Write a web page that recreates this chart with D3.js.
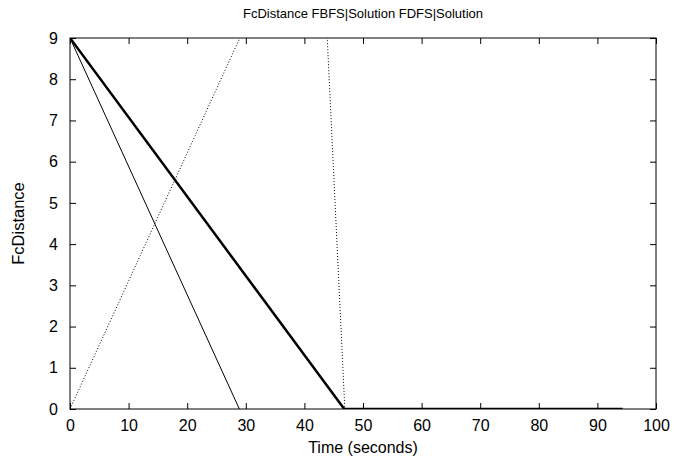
<!DOCTYPE html>
<html lang="en">
<head>
<meta charset="UTF-8">
<title>FcDistance</title>
<script src="https://d3js.org/d3.v7.min.js"></script>
<style>
    body { margin: 0; background: #fff; }
    text { font-family: "Liberation Sans", Arial, sans-serif; font-size: 16px; fill: #000; }
</style>
</head>
<body>
<div id="chart"></div>
<script>
// data
var thinX = [0, 28.9];
var thinY = [9, 0];
var thickX = [0, 46.8, 94.3];
var thickY = [9, 0, 0];
var dotX = [0, 42.5, 46.9, 94.3];
var dotY = [0, 13.2, 0, 0];
var xTicks = [0, 10, 20, 30, 40, 50, 60, 70, 80, 90, 100];
var yTicks = [0, 1, 2, 3, 4, 5, 6, 7, 8, 9];

var width = 697, height = 466;
var m = { left: 70, right: 41, top: 38, bottom: 57 };

var svg = d3.select("#chart").append("svg")
    .attr("width", width)
    .attr("height", height);

var x = d3.scaleLinear().domain([0, 100]).range([m.left, width - m.right]);
var y = d3.scaleLinear().domain([0, 9]).range([height - m.bottom, m.top]);

svg.append("clipPath").attr("id", "clip")
    .append("rect")
    .attr("x", m.left).attr("y", m.top)
    .attr("width", width - m.left - m.right)
    .attr("height", height - m.top - m.bottom);

function pts(xs, ys) {
    return xs.map(function(v, i) { return [v, ys[i]]; });
}
var line = d3.line()
    .x(function(d) { return x(d[0]); })
    .y(function(d) { return y(d[1]); });

var g = svg.append("g").attr("clip-path", "url(#clip)");

g.append("path").datum(pts(dotX, dotY))
    .attr("d", line)
    .attr("fill", "none")
    .attr("stroke", "#000")
    .attr("stroke-width", 1)
    .attr("stroke-dasharray", "1,2");

g.append("path").datum(pts(thinX, thinY))
    .attr("d", line)
    .attr("fill", "none")
    .attr("stroke", "#000")
    .attr("stroke-width", 1);

g.append("path").datum(pts(thickX, thickY))
    .attr("d", line)
    .attr("fill", "none")
    .attr("stroke", "#000")
    .attr("stroke-width", 2.5);

// axes, ticks inward, mirrored
var tickLen = 6;
svg.append("g")
    .attr("transform", "translate(0," + y(0) + ")")
    .call(d3.axisBottom(x).tickValues(xTicks).tickSizeInner(-tickLen).tickSizeOuter(0).tickPadding(11))
    .call(function(a) { a.select(".domain").remove(); });
svg.append("g")
    .attr("transform", "translate(0," + y(9) + ")")
    .call(d3.axisTop(x).tickValues(xTicks).tickSizeInner(-tickLen).tickSizeOuter(0).tickFormat(""))
    .call(function(a) { a.select(".domain").remove(); });
svg.append("g")
    .attr("transform", "translate(" + x(0) + ",0)")
    .call(d3.axisLeft(y).tickValues(yTicks).tickSizeInner(-tickLen).tickSizeOuter(0).tickPadding(12))
    .call(function(a) { a.select(".domain").remove(); });
svg.append("g")
    .attr("transform", "translate(" + x(100) + ",0)")
    .call(d3.axisRight(y).tickValues(yTicks).tickSizeInner(-tickLen).tickSizeOuter(0).tickFormat(""))
    .call(function(a) { a.select(".domain").remove(); });

svg.selectAll(".tick text")
    .style("font-family", "'Liberation Sans', Arial, sans-serif")
    .style("font-size", "16px");

svg.append("rect")
    .attr("x", x(0)).attr("y", y(9))
    .attr("width", x(100) - x(0))
    .attr("height", y(0) - y(9))
    .attr("fill", "none")
    .attr("stroke", "#000")
    .attr("stroke-width", 1);

svg.append("text")
    .attr("x", (x(0) + x(100)) / 2)
    .attr("y", 18)
    .attr("text-anchor", "middle")
    .style("font-size", "13px")
    .text("FcDistance FBFS|Solution FDFS|Solution");

svg.append("text")
    .attr("x", (x(0) + x(100)) / 2)
    .attr("y", 453)
    .attr("text-anchor", "middle")
    .text("Time (seconds)");

svg.append("text")
    .attr("transform", "translate(24," + (y(0) + y(9)) / 2 + ") rotate(-90)")
    .attr("text-anchor", "middle")
    .style("font-size", "16.5px")
    .text("FcDistance");
</script>
</body>
</html>
